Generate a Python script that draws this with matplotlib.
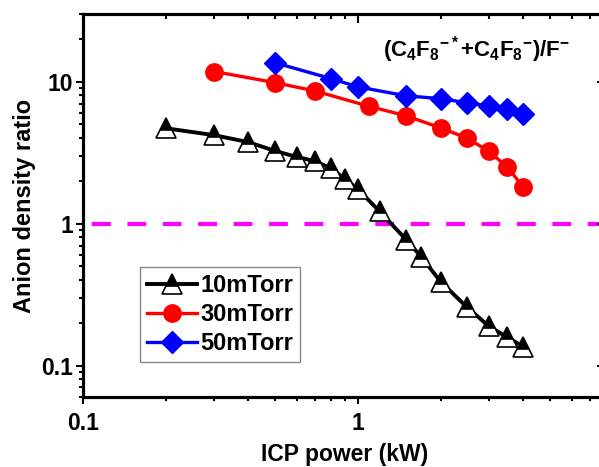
import matplotlib
matplotlib.use("Agg")
import matplotlib.pyplot as plt
from matplotlib.ticker import LogLocator, NullFormatter, FixedLocator, FixedFormatter

plt.rcParams["font.family"] = ["Liberation Sans", "DejaVu Sans"]
plt.rcParams["font.weight"] = "bold"
plt.rcParams["mathtext.fontset"] = "custom"
plt.rcParams["mathtext.rm"] = "Liberation Sans:bold"
plt.rcParams["mathtext.bf"] = "Liberation Sans:bold"
plt.rcParams["mathtext.it"] = "Liberation Sans:bold"

# ICP power (kW) and anion density ratio
power_10 = [0.2, 0.3, 0.4, 0.5, 0.6, 0.7, 0.8, 0.9, 1.0, 1.2, 1.5, 1.7, 2.0, 2.5, 3.0, 3.5, 4.0]
ratio_10 = [4.7, 4.2, 3.75, 3.25, 2.95, 2.75, 2.45, 2.05, 1.75, 1.22, 0.77, 0.585, 0.39, 0.257, 0.189, 0.158, 0.136]

power_30 = [0.3, 0.5, 0.7, 1.1, 1.5, 2.0, 2.5, 3.0, 3.5, 4.0]
ratio_30 = [11.8, 9.85, 8.6, 6.7, 5.75, 4.73, 4.0, 3.23, 2.5, 1.81]

power_50 = [0.5, 0.8, 1.0, 1.5, 2.0, 2.5, 3.0, 3.5, 4.0]
ratio_50 = [13.6, 10.5, 9.2, 7.95, 7.6, 7.1, 6.75, 6.45, 5.95]

reference_ratio = 1.0
xlim = (0.1, 8)
ylim = (0.06, 30)
x_major = [0.1, 1]
y_major = [0.1, 1, 10]


def setup_log_axis(axis, major):
    axis.set_major_locator(FixedLocator(major))
    axis.set_major_formatter(FixedFormatter([f"{v:g}" for v in major]))
    axis.set_minor_locator(LogLocator(base=10, subs=range(2, 10)))
    axis.set_minor_formatter(NullFormatter())


fig = plt.figure(figsize=(5.99, 4.67), dpi=100)
ax = fig.add_axes([83 / 599, 1 - 397 / 467, 523 / 599, 383 / 467])

ax.axhline(reference_ratio, color="#ff00ff", lw=3, ls=(0, (4.5, 4.0)), xmin=0.017, zorder=1)

ax.plot(power_10, ratio_10, color="black", lw=2.8, marker="^", ms=14,
        fillstyle="top", markerfacecolor="black", markerfacecoloralt="white",
        markeredgecolor="black", markeredgewidth=1.2, label="10mTorr", zorder=3)
ax.plot(power_30, ratio_30, color="#ff0000", lw=2.4, marker="o", ms=12.5,
        markeredgecolor="#ff0000", label="30mTorr", zorder=2)
ax.plot(power_50, ratio_50, color="#0000ff", lw=2.4, marker="D", ms=11,
        markeredgecolor="#0000ff", label="50mTorr", zorder=2)

ax.set_xscale("log")
ax.set_yscale("log")
ax.set_xlim(*xlim)
ax.set_ylim(*ylim)
setup_log_axis(ax.xaxis, x_major)
setup_log_axis(ax.yaxis, y_major)

# bottom/left ticks point out, top/right ticks point in (Origin style)
ax.tick_params(which="both", direction="out", width=1.5, labelsize=16.5)
ax.tick_params(which="major", length=5)
ax.tick_params(which="minor", length=3.2)
ax.tick_params(axis="x", pad=6)
ax.tick_params(axis="y", pad=2)
for s in ax.spines.values():
    s.set_linewidth(2.2)

axt = ax.twiny()
axt.set_xscale("log")
axt.set_xlim(*xlim)
setup_log_axis(axt.xaxis, x_major)
axr = ax.twinx()
axr.set_yscale("log")
axr.set_ylim(*ylim)
setup_log_axis(axr.yaxis, y_major)
for a in (axt, axr):
    a.tick_params(which="both", direction="in", width=1.5, labeltop=False, labelright=False)
    a.tick_params(which="major", length=6.5)
    a.tick_params(which="minor", length=3.5)
    for s in a.spines.values():
        s.set_linewidth(2.2)

ax.set_xlabel("ICP power (kW)", fontsize=16.5, fontweight="bold", labelpad=5.5)
ax.set_ylabel("Anion density ratio", fontsize=17, fontweight="bold", labelpad=4)

ax.text(0.574, 0.906, r"(C$_4$F$_8$$^{-*}$+C$_4$F$_8$$^{-}$)/F$^{-}$",
        transform=ax.transAxes, fontsize=16, fontweight="bold", ha="left", va="center")

leg = ax.legend(loc="lower left", bbox_to_anchor=(0.109, 0.091), borderaxespad=0,
                fontsize=17, fancybox=False, framealpha=1, edgecolor="#888888",
                handlelength=2.1, handletextpad=0.15, labelspacing=0.25, borderpad=0.3)
leg.get_frame().set_linewidth(1.0)

fig.savefig("out.png", dpi=100)
